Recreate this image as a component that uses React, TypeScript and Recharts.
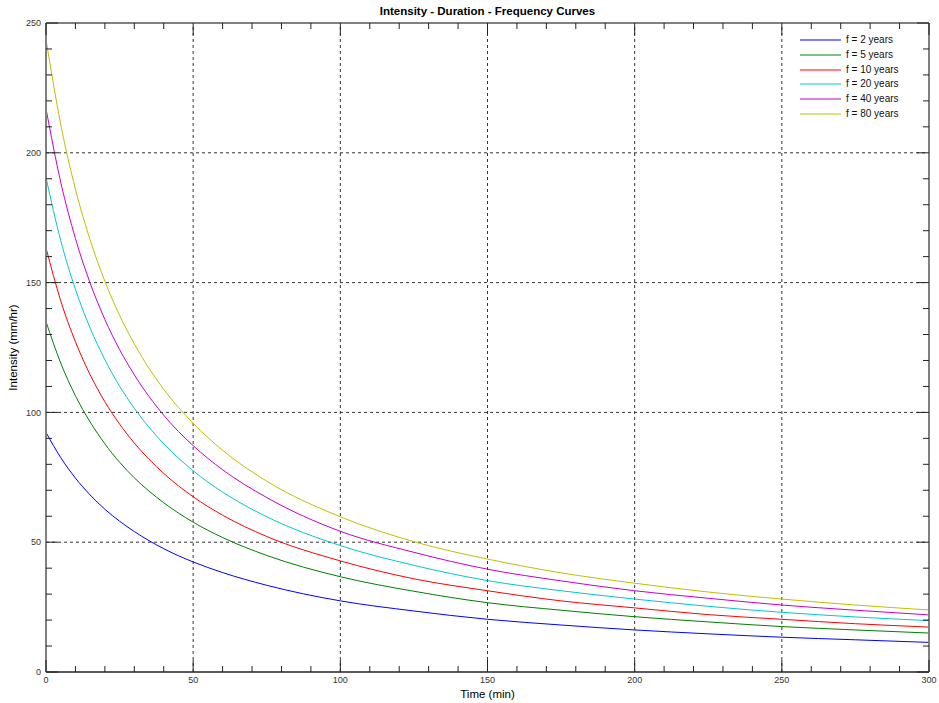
import React from 'react';
import { LineChart, Line, XAxis, YAxis, ReferenceLine, Legend } from 'recharts';

const TIMES = [0, 5, 10, 15, 20, 25, 30, 40, 50, 60, 75, 100, 125, 150, 175, 200, 225, 250, 275, 300];
const F2 = [92.3, 82.6, 74.7, 68.2, 62.7, 58.1, 54.1, 47.5, 42.4, 38.3, 33.4, 27.4, 23.5, 20.3, 18.1, 16.2, 14.7, 13.4, 12.4, 11.4];
const F5 = [135, 119.0, 106.4, 96.3, 87.9, 80.8, 74.8, 65.2, 57.7, 51.8, 44.9, 36.7, 31.1, 26.7, 23.8, 21.3, 19.3, 17.5, 16.2, 15.0];
const F10 = [163.4, 143.0, 127.2, 114.5, 104.1, 95.5, 88.2, 76.5, 67.5, 60.4, 52.2, 42.8, 35.9, 31.3, 27.4, 24.7, 22.1, 20.3, 18.6, 17.3];
const F20 = [190.5, 166.2, 147.4, 132.5, 120.3, 110.1, 101.6, 87.9, 77.5, 69.3, 59.8, 48.7, 41.1, 35.2, 31.3, 28.1, 25.3, 23.0, 21.2, 19.8];
const F40 = [217, 188.7, 167.0, 149.8, 135.8, 124.2, 114.5, 98.9, 87.2, 77.9, 67.2, 54.2, 46.1, 39.6, 35.1, 31.3, 28.4, 25.8, 23.8, 22.0];
const F80 = [243.7, 211.0, 186.0, 166.4, 150.5, 137.4, 126.4, 108.9, 95.8, 85.4, 73.5, 59.8, 50.2, 43.5, 38.2, 34.2, 30.8, 28.1, 25.8, 23.9];

const SERIES_KEYS = ['f2', 'f5', 'f10', 'f20', 'f40', 'f80'];
const SERIES_NAMES = ['f = 2 years', 'f = 5 years', 'f = 10 years', 'f = 20 years', 'f = 40 years', 'f = 80 years'];
const SERIES_COLORS = ['#0000ff', '#008000', '#ff0000', '#00c8c8', '#c800c8', '#c0c000'];
const SERIES_VALUES = [F2, F5, F10, F20, F40, F80];

const X_TICKS = [0, 10, 20, 30, 40, 50, 60, 70, 80, 90, 100, 110, 120, 130, 140, 150, 160, 170, 180, 190, 200, 210, 220, 230, 240, 250, 260, 270, 280, 290, 300];
const X_GRID = [50, 100, 150, 200, 250];
const Y_TICKS = [0, 10, 20, 30, 40, 50, 60, 70, 80, 90, 100, 110, 120, 130, 140, 150, 160, 170, 180, 190, 200, 210, 220, 230, 240, 250];
const Y_GRID = [50, 100, 150, 200];

const TITLE = 'Intensity - Duration - Frequency Curves';
const X_LABEL = 'Time (min)';
const Y_LABEL = 'Intensity (mm/hr)';

const FONT = '"Liberation Sans", Arial, sans-serif';
const TICK_MARGIN = 5;
const MINOR = 6;
const MAJOR = 12;

const data = TIMES.map((t, i) => {
  const row: Record<string, number> = { t };
  SERIES_KEYS.forEach((k, j) => {
    row[k] = SERIES_VALUES[j][i];
  });
  return row;
});

const isMajor = (v: number) => v % 50 === 0;

const BottomTick = (props: any) => {
  const { x, y, payload } = props;
  const v = payload.value;
  const axisY = y - TICK_MARGIN;
  return (
    <g>
      <line x1={x} x2={x} y1={axisY} y2={axisY - (isMajor(v) ? MAJOR : MINOR)} stroke="#222" strokeWidth={1} />
      {isMajor(v) && (
        <text x={x} y={y} dy="0.71em" textAnchor="middle" fontSize={9} fill="#333" fontFamily={FONT}>
          {v}
        </text>
      )}
    </g>
  );
};

const LeftTick = (props: any) => {
  const { x, y, payload } = props;
  const v = payload.value;
  const axisX = x + TICK_MARGIN;
  return (
    <g>
      <line x1={axisX} x2={axisX + (isMajor(v) ? MAJOR : MINOR)} y1={y} y2={y} stroke="#222" strokeWidth={1} />
      {isMajor(v) && (
        <text x={x} y={y} dy="0.355em" textAnchor="end" fontSize={9} fill="#333" fontFamily={FONT}>
          {v}
        </text>
      )}
    </g>
  );
};

const TopTick = (props: any) => {
  const { x, y, payload } = props;
  const v = payload.value;
  return <line x1={x} x2={x} y1={y} y2={y + (isMajor(v) ? MAJOR : MINOR)} stroke="#222" strokeWidth={1} />;
};

const RightTick = (props: any) => {
  const { x, y, payload } = props;
  const v = payload.value;
  return <line x1={x} x2={x - (isMajor(v) ? MAJOR : MINOR)} y1={y} y2={y} stroke="#222" strokeWidth={1} />;
};

const LegendContent = (props: any) => {
  const payload = [...(props.payload || [])].sort(
    (a: any, b: any) => SERIES_NAMES.indexOf(a.value) - SERIES_NAMES.indexOf(b.value)
  );
  return (
    <div style={{ fontFamily: FONT, fontSize: 10, color: '#111' }}>
      {payload.map((p: any, i: number) => (
        <div key={i} style={{ height: 14.7, display: 'flex', alignItems: 'center' }}>
          <svg width={41} height={4} style={{ display: 'block' }}>
            <line x1={0} x2={41} y1={2} y2={2} stroke={p.color} strokeWidth={1} />
          </svg>
          <span style={{ marginLeft: 5, lineHeight: '12px', whiteSpace: 'nowrap' }}>{p.value}</span>
        </div>
      ))}
    </div>
  );
};

export default function App() {
  return (
    <div style={{ position: 'absolute', left: 0, top: 0, width: 939, height: 703, background: '#fff' }}>
      <div
        style={{
          position: 'absolute',
          left: 46,
          top: 4,
          width: 883,
          textAlign: 'center',
          fontFamily: FONT,
          fontWeight: 'bold',
          fontSize: 11.5,
          lineHeight: '14px',
          color: '#000',
          zIndex: 2,
        }}
      >
        {TITLE}
      </div>
      <LineChart width={939} height={703} data={data} margin={{ top: 22, right: 9, bottom: 3, left: 6 }}>
        <XAxis
          dataKey="t"
          type="number"
          domain={[0, 300]}
          ticks={X_TICKS}
          interval={0}
          height={28}
          tickSize={0}
          tickMargin={TICK_MARGIN}
          tickLine={false}
          tick={<BottomTick />}
          axisLine={{ stroke: '#222', strokeWidth: 1.5 }}
          allowDataOverflow
          label={{ value: X_LABEL, position: 'insideBottom', offset: 2, style: { fontSize: 11.5, fill: '#000', fontFamily: FONT } }}
        />
        <XAxis
          xAxisId="top"
          orientation="top"
          dataKey="t"
          type="number"
          domain={[0, 300]}
          ticks={X_TICKS}
          interval={0}
          height={1}
          tickSize={0}
          tickMargin={0}
          tickLine={false}
          tick={<TopTick />}
          axisLine={{ stroke: '#808080', strokeWidth: 2 }}
          allowDataOverflow
        />
        <YAxis
          type="number"
          domain={[0, 250]}
          ticks={Y_TICKS}
          interval={0}
          width={40}
          tickSize={0}
          tickMargin={TICK_MARGIN}
          tickLine={false}
          tick={<LeftTick />}
          axisLine={{ stroke: '#808080', strokeWidth: 2 }}
          allowDataOverflow
          label={{
            value: Y_LABEL,
            angle: -90,
            position: 'insideLeft',
            offset: 7,
            style: { textAnchor: 'middle', fontSize: 11.5, fill: '#000', fontFamily: FONT },
          }}
        />
        <YAxis
          yAxisId="right"
          orientation="right"
          type="number"
          domain={[0, 250]}
          ticks={Y_TICKS}
          interval={0}
          width={1}
          tickSize={0}
          tickMargin={0}
          tickLine={false}
          tick={<RightTick />}
          axisLine={{ stroke: '#808080', strokeWidth: 2 }}
          allowDataOverflow
        />
        {X_GRID.map((v) => (
          <ReferenceLine key={'x' + v} x={v} stroke="#333" strokeDasharray="3 3" strokeWidth={1} />
        ))}
        {Y_GRID.map((v) => (
          <ReferenceLine key={'y' + v} y={v} stroke="#333" strokeDasharray="3 3" strokeWidth={1} />
        ))}
        <Legend
          layout="vertical"
          align="center"
          verticalAlign="middle"
          content={<LegendContent />}
          wrapperStyle={{ top: 33, left: 800, width: 130, height: 90 }}
        />
        {SERIES_KEYS.map((k, i) => (
          <Line
            key={k}
            dataKey={k}
            name={SERIES_NAMES[i]}
            stroke={SERIES_COLORS[i]}
            strokeWidth={1}
            type="monotone"
            dot={false}
            activeDot={false}
            isAnimationActive={false}
          />
        ))}
      </LineChart>
    </div>
  );
}
